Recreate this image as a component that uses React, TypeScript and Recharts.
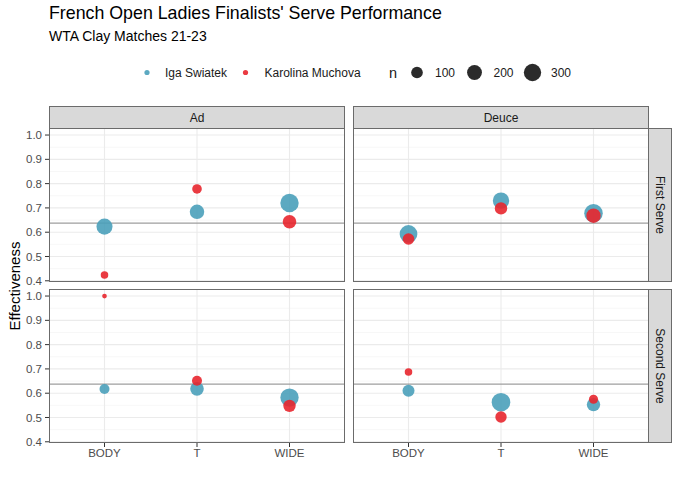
import React from 'react';
import { ScatterChart, Scatter, XAxis, YAxis, ZAxis, ReferenceLine } from 'recharts';

// categories and axis ticks
const categories = ['BODY', 'T', 'WIDE'];
const majorY = [0.4, 0.5, 0.6, 0.7, 0.8, 0.9, 1.0];
const minorY = [0.45, 0.55, 0.65, 0.75, 0.85, 0.95];
const overallMean = 0.637;
const sizeBreaks = [100, 200, 300];

// effectiveness and n per serve direction (BODY, T, WIDE)
const igaAdFirst = [0.623, 0.684, 0.72];
const igaAdFirstN = [245, 185, 350];
const karAdFirst = [0.424, 0.778, 0.643];
const karAdFirstN = [22, 54, 156];

const igaDeuceFirst = [0.593, 0.73, 0.678];
const igaDeuceFirstN = [320, 260, 355];
const karDeuceFirst = [0.572, 0.698, 0.668];
const karDeuceFirstN = [98, 120, 183];

const igaAdSecond = [0.617, 0.618, 0.582];
const igaAdSecondN = [62, 156, 348];
const karAdSecond = [1.0, 0.651, 0.548];
const karAdSecondN = [1, 62, 120];

const igaDeuceSecond = [0.61, 0.563, 0.553];
const igaDeuceSecondN = [109, 360, 150];
const karDeuceSecond = [0.687, 0.502, 0.575];
const karDeuceSecondN = [22, 94, 45];

const IGA = '#4AA0BA';
const KAR = '#E8262D';
const BORDER = '#6b6b6b';
const FONT = '"Liberation Sans", Arial, Helvetica, sans-serif';

const Z_DOMAIN: [number, number] = [1, 360];
const Z_RANGE: [number, number] = [2.35, 9.3];
const Y_DOMAIN: [number, number] = [0.395, 1.029];

// same sqrt mapping as the ZAxis, used only for the legend keys
const legendRadius = (n: number) =>
    Z_RANGE[0] + ((Z_RANGE[1] - Z_RANGE[0]) * (Math.sqrt(n) - Math.sqrt(Z_DOMAIN[0]))) /
    (Math.sqrt(Z_DOMAIN[1]) - Math.sqrt(Z_DOMAIN[0]));

const toRows = (eff: number[], n: number[]) =>
    categories.map((c, i) => ({ x: i + 1, y: eff[i], n: n[i], name: c }));

const dot = (color: string) => (props: any) => (
    <circle cx={props.cx} cy={props.cy} r={props.size} fill={color} fillOpacity={0.9} />
);

interface PanelProps {
    iga: number[];
    igaN: number[];
    kar: number[];
    karN: number[];
    left: number;
    top: number;
    showY: boolean;
    showX: boolean;
}

const PLOT_W = 296;
const PLOT_H = 154;
const Y_W = 49;
const X_H = 24;
const PAD = 8; // room so edge tick labels are not clipped

const Panel: React.FC<PanelProps> = ({ iga, igaN, kar, karN, left, top, showY, showX }) => {
    const yw = showY ? Y_W : 0;
    const xh = showX ? X_H : PAD;
    return (
        <div style={{ position: 'absolute', left, top: top - PAD }}>
            <ScatterChart
                width={PLOT_W + yw}
                height={PLOT_H + xh + PAD}
                margin={{ top: PAD, right: 0, bottom: showX ? 0 : PAD, left: 0 }}
            >
                <XAxis
                    type="number"
                    dataKey="x"
                    domain={[0.4, 3.6]}
                    ticks={[1, 2, 3]}
                    interval={0}
                    allowDataOverflow
                    hide={!showX}
                    height={X_H}
                    tickFormatter={(v: number) => categories[v - 1]}
                    axisLine={false}
                    tickSize={4}
                    tickMargin={2}
                    tickLine={{ stroke: '#333333' }}
                    tick={{ fill: '#4D4D4D', fontSize: 11.5, fontFamily: FONT }}
                />
                <YAxis
                    type="number"
                    dataKey="y"
                    domain={Y_DOMAIN}
                    ticks={majorY}
                    interval={0}
                    allowDataOverflow
                    hide={!showY}
                    width={Y_W}
                    tickFormatter={(v: number) => v.toFixed(1)}
                    axisLine={false}
                    tickSize={4}
                    tickMargin={3}
                    tickLine={{ stroke: '#333333' }}
                    tick={{ fill: '#4D4D4D', fontSize: 11.5, fontFamily: FONT }}
                />
                <ZAxis type="number" dataKey="n" domain={Z_DOMAIN} range={Z_RANGE} scale="sqrt" />
                {minorY.map((v) => (
                    <ReferenceLine key={'mi' + v} y={v} stroke="#F3F3F3" strokeWidth={0.7} />
                ))}
                {majorY.map((v) => (
                    <ReferenceLine key={'ma' + v} y={v} stroke="#EBEBEB" strokeWidth={1.1} />
                ))}
                {categories.map((c, i) => (
                    <ReferenceLine key={c} x={i + 1} stroke="#EBEBEB" strokeWidth={1.1} />
                ))}
                <ReferenceLine y={overallMean} stroke="#9E9E9E" strokeWidth={1.2} />
                <Scatter data={toRows(iga, igaN)} shape={dot(IGA)} isAnimationActive={false} />
                <Scatter data={toRows(kar, karN)} shape={dot(KAR)} isAnimationActive={false} />
            </ScatterChart>
            <div
                style={{
                    position: 'absolute',
                    left: yw,
                    top: PAD,
                    width: PLOT_W,
                    height: PLOT_H,
                    border: `1px solid ${BORDER}`,
                    boxSizing: 'border-box',
                    pointerEvents: 'none',
                }}
            />
        </div>
    );
};

const stripBase: React.CSSProperties = {
    position: 'absolute',
    background: '#D9D9D9',
    border: `1px solid ${BORDER}`,
    boxSizing: 'border-box',
    color: '#1A1A1A',
    fontSize: 12,
    display: 'flex',
    alignItems: 'center',
    justifyContent: 'center',
};

const TopStrip = ({ left, label }: { left: number; label: string }) => (
    <div style={{ ...stripBase, left, top: 106, width: PLOT_W, height: 23 }}>{label}</div>
);

const SideStrip = ({ top, label }: { top: number; label: string }) => (
    <div style={{ ...stripBase, left: 648, top, width: 24, height: PLOT_H }}>
        <span style={{ transform: 'rotate(90deg)', whiteSpace: 'nowrap' }}>{label}</span>
    </div>
);

const Legend = () => {
    const sizeX = [417, 474.5, 532.5];
    const labelX = [435, 493.5, 551];
    return (
        <svg width={680} height={30} style={{ position: 'absolute', left: 0, top: 58 }}>
            <circle cx={147} cy={14.5} r={2.6} fill={IGA} fillOpacity={0.9} />
            <text x={165} y={18.7} fontSize={12} fill="#1A1A1A" fontFamily={FONT}>Iga Swiatek</text>
            <circle cx={245.5} cy={14.5} r={2.6} fill={KAR} fillOpacity={0.9} />
            <text x={264.5} y={18.7} fontSize={12} fill="#1A1A1A" fontFamily={FONT}>Karolina Muchova</text>
            <text x={389} y={19.5} fontSize={14.5} fill="#1A1A1A" fontFamily={FONT}>n</text>
            {sizeBreaks.map((n, i) => (
                <g key={n}>
                    <circle cx={sizeX[i]} cy={14.5} r={legendRadius(n)} fill="#2B2B2B" />
                    <text x={labelX[i]} y={18.7} fontSize={12} fill="#1A1A1A" fontFamily={FONT}>{n}</text>
                </g>
            ))}
        </svg>
    );
};

const App: React.FC = () => {
    return (
        <div
            style={{
                position: 'absolute',
                left: 0,
                top: 0,
                width: 680,
                height: 486,
                background: '#ffffff',
                fontFamily: FONT,
                overflow: 'hidden',
            }}
        >
            <div style={{ position: 'absolute', left: 49, top: 3, fontSize: 17.8, color: '#000' }}>
                French Open Ladies Finalists' Serve Performance
            </div>
            <div style={{ position: 'absolute', left: 49, top: 28, fontSize: 14, color: '#000' }}>
                WTA Clay Matches 21-23
            </div>
            <Legend />

            <TopStrip left={49} label="Ad" />
            <TopStrip left={353} label="Deuce" />

            <Panel iga={igaAdFirst} igaN={igaAdFirstN} kar={karAdFirst} karN={karAdFirstN} left={0} top={128} showY showX={false} />
            <Panel iga={igaDeuceFirst} igaN={igaDeuceFirstN} kar={karDeuceFirst} karN={karDeuceFirstN} left={353} top={128} showY={false} showX={false} />
            <Panel iga={igaAdSecond} igaN={igaAdSecondN} kar={karAdSecond} karN={karAdSecondN} left={0} top={289} showY showX />
            <Panel iga={igaDeuceSecond} igaN={igaDeuceSecondN} kar={karDeuceSecond} karN={karDeuceSecondN} left={353} top={289} showY={false} showX />

            <SideStrip top={128} label="First Serve" />
            <SideStrip top={289} label="Second Serve" />

            <div
                style={{
                    position: 'absolute',
                    left: 14,
                    top: 286,
                    transform: 'translate(-50%, -50%) rotate(-90deg)',
                    fontSize: 15,
                    color: '#000',
                    whiteSpace: 'nowrap',
                }}
            >
                Effectiveness
            </div>
        </div>
    );
};

export default App;
